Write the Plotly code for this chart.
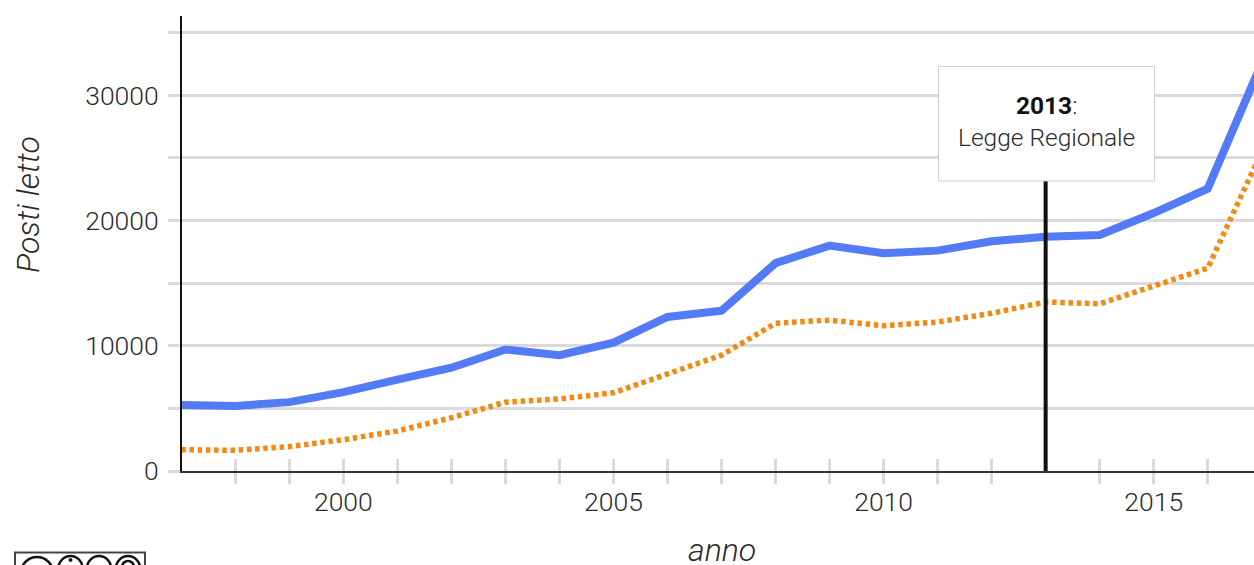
import plotly.graph_objects as go

years = list(range(1997, 2018))
posti_letto_blue = [5270, 5200, 5500, 6300, 7300, 8250, 9700, 9250, 10250, 12300, 12800,
                    16600, 18000, 17400, 17600, 18350, 18700, 18850, 20600, 22550, 32600]
posti_letto_orange = [1700, 1650, 1950, 2500, 3200, 4250, 5500, 5750, 6250, 7800, 9250,
                      11800, 12050, 11600, 11900, 12600, 13500, 13350, 14800, 16200, 25500]
event_year = [2013, 2013]
event_span = [0, 30000]
tick_years = [y for y in years if y not in (1997, 2013, 2017)]
x_labels = [str(y) if y % 5 == 0 else "" for y in tick_years]
y_vals = [0, 5000, 10000, 15000, 20000, 25000, 30000, 35000]
y_labels = ["0", "", "10000", "", "20000", "", "30000", ""]

FONT = "Roboto"
GRID = "#dadada"
TEXT = "#2b2b2b"
W, H = 1254, 565
L, R, T, B = 182, 0, 16, 94


def px(x):
    return (x - L) / (W - L - R)


def py(y):
    return 1 - (y - T) / (H - T - B)


def circle(cx, cy, r, width=2.5, fill=None):
    return dict(type="circle", xref="paper", yref="paper", layer="above",
                x0=px(cx - r), x1=px(cx + r), y0=py(cy + r), y1=py(cy - r),
                line=dict(color="#111111", width=width),
                fillcolor=fill if fill else "rgba(0,0,0,0)")


fig = go.Figure()
fig.add_trace(go.Scatter(x=event_year, y=event_span, mode="lines", xaxis="x2", yaxis="y",
                         line=dict(color="#111111", width=4), hoverinfo="skip", showlegend=False))
fig.add_trace(go.Scatter(x=years, y=posti_letto_orange, mode="lines", name="orange",
                         line=dict(color="#f28a14", width=5.5, dash="4.5px,3.7px"), showlegend=False))
fig.add_trace(go.Scatter(x=years, y=posti_letto_blue, mode="lines", name="blue",
                         line=dict(color="#527bf5", width=8), showlegend=False))

x_range = [1997.013, 2016.857]
tick_font = dict(family=FONT, size=26.5, weight=300, color=TEXT)
title_font = dict(family=FONT, size=32, style="italic", weight=300, color=TEXT)
fig.update_layout(
    width=W, height=H, autosize=False,
    margin=dict(l=L, r=R, t=T, b=B, pad=0),
    paper_bgcolor="white", plot_bgcolor="white",
    font=dict(family=FONT, color=TEXT, size=26, weight=300),
    xaxis=dict(range=x_range, tickmode="array", tickvals=tick_years, ticktext=x_labels,
               ticks="outside", ticklen=11, tickwidth=3, tickcolor=GRID, ticklabelstandoff=-5,
               showgrid=False, zeroline=False, showline=True, linecolor="#333333", linewidth=2,
               tickfont=tick_font),
    xaxis2=dict(range=x_range, overlaying="x", anchor="y", side="bottom",
                tickmode="array", tickvals=tick_years, ticktext=[""] * len(tick_years),
                ticks="inside", ticklen=12, tickwidth=3, tickcolor=GRID,
                showgrid=False, zeroline=False, showline=False),
    yaxis=dict(range=[0, 36340], tickmode="array", tickvals=y_vals, ticktext=y_labels,
               ticks="outside", ticklen=12, tickwidth=3, tickcolor=GRID, ticklabelstandoff=4,
               showgrid=True, gridcolor=GRID, gridwidth=3, zeroline=False,
               showline=True, linecolor="#111111", linewidth=2,
               tickfont=tick_font),
    annotations=[
        dict(xref="paper", yref="paper", x=px(28), y=py(205), text="Posti letto", showarrow=False,
             textangle=-90, xanchor="center", yanchor="middle", font=title_font),
        dict(xref="paper", yref="paper", x=px(722), y=py(550), text="anno", showarrow=False,
             xanchor="center", yanchor="middle", font=title_font),
        dict(xref="paper", yref="paper", x=px(1046.5), y=py(121.5),
             text="<b style='font-weight:700;color:#111'>2013</b>:<br>Legge Regionale",
             showarrow=False, xanchor="center", yanchor="middle", align="center",
             font=dict(family=FONT, size=24.5, weight=300, color=TEXT)),
    ],
    shapes=[
        dict(type="rect", xref="paper", yref="paper", layer="above",
             x0=px(938.5), x1=px(1154.5), y0=py(181), y1=py(66.5),
             line=dict(color="#cfcfcf", width=1), fillcolor="white"),
        dict(type="rect", xref="paper", yref="paper", layer="above",
             x0=px(15), x1=px(145), y0=py(575), y1=py(552.5),
             line=dict(color="#444444", width=2), fillcolor="white"),
        circle(37, 573, 16),
        circle(70.5, 568, 12),
        circle(70.5, 560, 1.5, width=1, fill="#111111"),
        circle(99, 568, 12),
        circle(128, 568, 12),
        circle(128, 567, 6),
    ],
)
fig.write_html("out.html", post_script="document.body.style.margin='0';",
               config=dict(displayModeBar=False))
